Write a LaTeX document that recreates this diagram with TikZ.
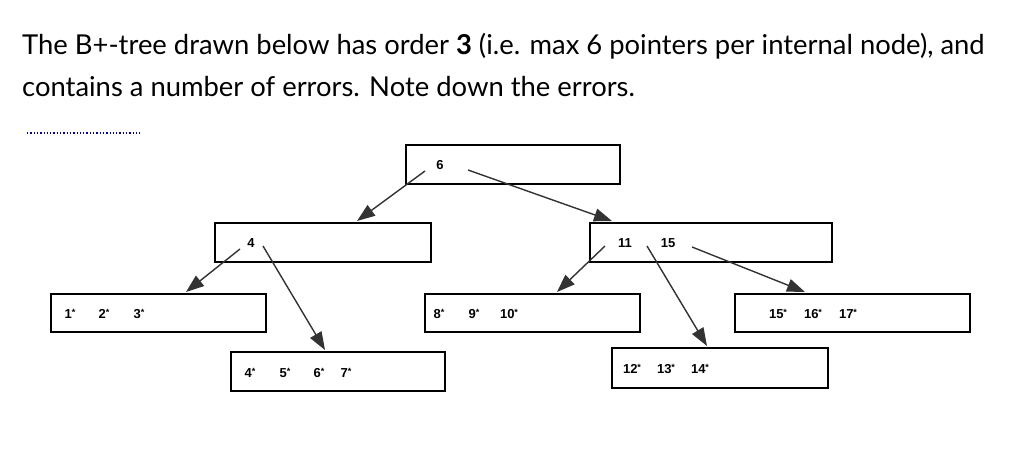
\documentclass[tikz,border=0pt]{standalone}
\usepackage{fontspec}
\setmainfont{Lato}
\newfontfamily\keyfont{Liberation Sans}
\usetikzlibrary{arrows.meta}
\tikzset{
  pagebox/.style={draw, line width=1.5pt},
  keytext/.style={font=\keyfont\bfseries\fontsize{13}{15}\selectfont, inner sep=0pt},
  ptr/.style={draw, line width=1.4pt, -{Triangle[length=18pt,width=13pt]}, black!80},
}
\newcommand{\ky}[1]{#1\raisebox{0.45ex}{\fontsize{9}{9}\selectfont*}}
\begin{document}
\begin{tikzpicture}[x=1pt,y=-1pt]
  \useasboundingbox (0,0) rectangle (1024,468);
  \node[anchor=base west, inner sep=0pt, font=\fontsize{27.4}{32}\selectfont] (ttl1) at (22,55) {The B+-tree drawn below has order \textbf{3} (i.e. max 6 pointers per internal node), and};
  \node[anchor=base west, inner sep=0pt, font=\fontsize{27.4}{32}\selectfont] (ttl2) at (22,97) {contains a number of errors. Note down the errors.};
  \draw[dotted, line width=1.3pt, blue!60!black] (27,133) -- (140,133);
  % boxes
  \draw[pagebox] (406,145) rectangle (620,184);
  \draw[pagebox] (215,223) rectangle (431,262);
  \draw[pagebox] (590,223) rectangle (832,262);
  \draw[pagebox] (51,294) rectangle (266,332);
  \draw[pagebox] (231,352) rectangle (445,391);
  \draw[pagebox] (425,294) rectangle (640,332);
  \draw[pagebox] (612,348) rectangle (828,388);
  \draw[pagebox] (735,294) rectangle (970,332);
  % keys
  \node[keytext] (k6) at (440,165) {6};
  \node[keytext] (k4) at (251,243) {4};
  \node[keytext] (k11) at (625,243) {11};
  \node[keytext] (k15) at (668,243) {15};
  \foreach \v/\x in {1/70,2/104,3/139,8/439,9/474,10/509,15/778,16/813,17/848}
    \node[keytext] at (\x,314) {\ky{\v}};
  \foreach \v/\x in {4/250,5/285,6/319,7/346}
    \node[keytext] at (\x,373) {\ky{\v}};
  \foreach \v/\x in {12/632,13/666,14/700}
    \node[keytext] at (\x,369) {\ky{\v}};
  % pointers
  \coordinate (a1) at (357,221); \coordinate (a2) at (612,221);
  \coordinate (b1) at (186,292); \coordinate (b2) at (325,350);
  \coordinate (c1) at (557,292); \coordinate (c2) at (707,346); \coordinate (c3) at (805,292);
  \draw[ptr] (425,171) -- (a1);
  \draw[ptr] (468,170) -- (a2);
  \draw[ptr] (240,249) -- (b1);
  \draw[ptr] (263,246) -- (b2);
  \draw[ptr] (605,246) -- (c1);
  \draw[ptr] (647,246) -- (c2);
  \draw[ptr] (692,247) -- (c3);
\end{tikzpicture}
\end{document}
